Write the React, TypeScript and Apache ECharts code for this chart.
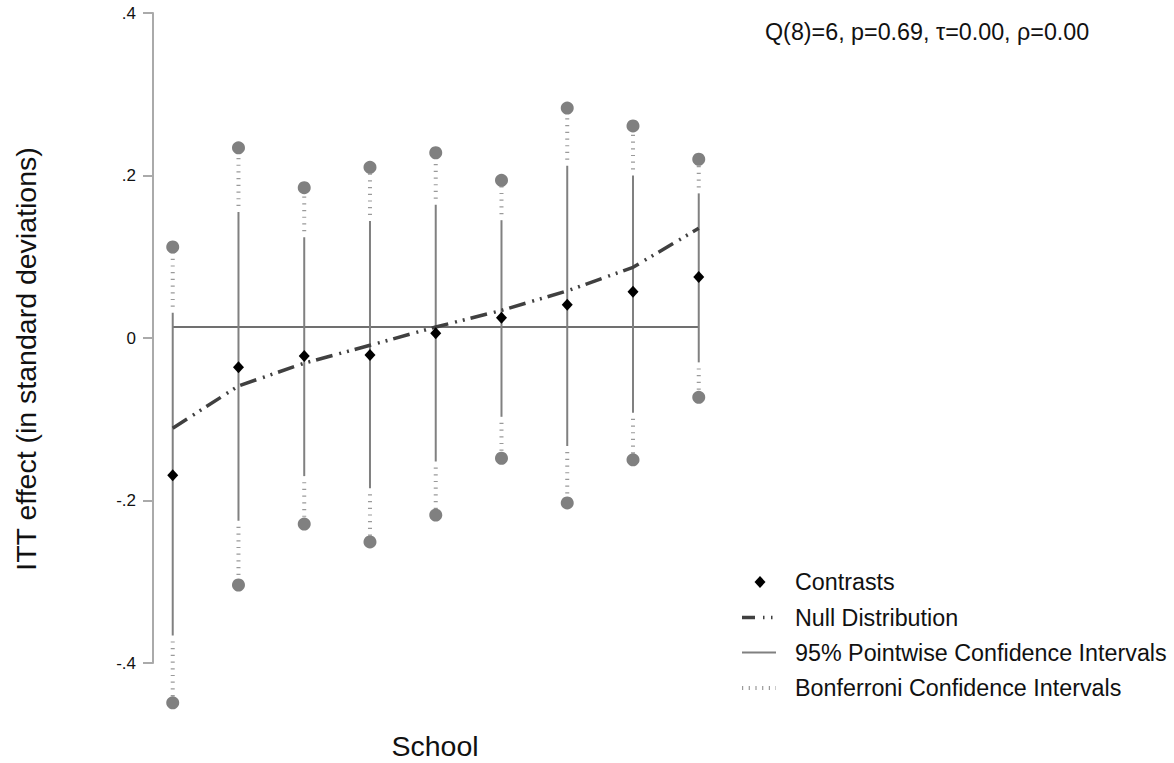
import React, { useEffect, useRef } from "react";
import * as echarts from "echarts";

const schools = [1, 2, 3, 4, 5, 6, 7, 8, 9];
const contrasts = [-0.169, -0.036, -0.022, -0.021, 0.006, 0.025, 0.041, 0.057, 0.075];
const nullDistribution = [-0.111, -0.059, -0.031, -0.009, 0.0135, 0.034, 0.058, 0.087, 0.135];
const pointwiseLower = [-0.366, -0.225, -0.17, -0.185, -0.152, -0.097, -0.133, -0.092, -0.03];
const pointwiseUpper = [0.031, 0.155, 0.124, 0.144, 0.164, 0.145, 0.212, 0.2, 0.178];
const bonferroniLower = [-0.449, -0.304, -0.229, -0.251, -0.218, -0.148, -0.203, -0.15, -0.073];
const bonferroniUpper = [0.112, 0.234, 0.185, 0.21, 0.228, 0.194, 0.283, 0.261, 0.22];
const pooledEffect = 0.0135;
const yTickValues = [-0.4, -0.2, 0, 0.2, 0.4];
const yTickLabels = ["-.4", "-.2", "0", ".2", ".4"];
const legendLabels = [
  "Contrasts",
  "Null Distribution",
  "95% Pointwise Confidence Intervals",
  "Bonferroni Confidence Intervals",
];
const statsText = "Q(8)=6, p=0.69, τ=0.00, ρ=0.00";
const xTitle = "School";
const yTitle = "ITT effect (in standard deviations)";

const FONT = "'Liberation Sans', Arial, Helvetica, sans-serif";

export default function App() {
  const ref = useRef<HTMLDivElement>(null);

  useEffect(() => {
    if (!ref.current) return;
    const chart = echarts.init(ref.current, null, { renderer: "svg" });

    const pwData = schools.map((s, i) => [s, pointwiseLower[i], pointwiseUpper[i]]);
    const bfData = schools.map((s, i) => [
      s,
      bonferroniLower[i],
      pointwiseLower[i],
      pointwiseUpper[i],
      bonferroniUpper[i],
    ]);
    const bfEnds: number[][] = [];
    schools.forEach((s, i) => {
      bfEnds.push([s, bonferroniLower[i]]);
      bfEnds.push([s, bonferroniUpper[i]]);
    });

    const legendY = [582, 617.5, 652.5, 688];
    const lx1 = 742;
    const lx2 = 776;
    const textX = 795;
    const legendText = (t: string, y: number) => ({
      type: "text",
      x: textX,
      y,
      style: {
        text: t,
        fontFamily: FONT,
        fontSize: 23.3,
        fill: "#111",
        align: "left",
        verticalAlign: "middle",
      },
    });

    const option: any = {
      animation: false,
      backgroundColor: "#ffffff",
      textStyle: { fontFamily: FONT },
      grid: {
        left: 153,
        top: 13,
        width: 611.5,
        height: 650,
        outerBoundsMode: "none",
      },
      xAxis: {
        type: "value",
        min: 0.7,
        max: 10,
        show: false,
      },
      yAxis: {
        type: "value",
        position: "left",
        min: -0.4,
        max: 0.4,
        interval: 0.2,
        splitLine: { show: false },
        axisLine: { show: true, onZero: false, lineStyle: { color: "#aaaaaa", width: 2 } },
        axisTick: { show: true, inside: false, length: 10, lineStyle: { color: "#aaaaaa", width: 2 } },
        axisLabel: {
          show: true,
          margin: 17,
          fontFamily: FONT,
          fontSize: 17,
          color: "#111111",
          formatter: (v: number) => {
            const idx = yTickValues.findIndex((t) => Math.abs(t - v) < 1e-9);
            return idx >= 0 ? "{t|" + yTickLabels[idx] + "}" : "";
          },
          rich: {
            t: { fontFamily: FONT, fontSize: 17, color: "#111111" },
          },
        },
      },
      series: [
        {
          name: "Pooled",
          type: "line",
          data: [
            [schools[0], pooledEffect],
            [schools[schools.length - 1], pooledEffect],
          ],
          symbol: "none",
          lineStyle: { color: "#707070", width: 2 },
          z: 1,
        },
        {
          name: legendLabels[3],
          type: "custom",
          data: bfData,
          encode: { x: 0, y: [1, 4] },
          clip: false,
          z: 2,
          renderItem: (params: any, api: any) => {
            const x = api.value(0);
            const a = api.coord([x, api.value(1)]);
            const b = api.coord([x, api.value(2)]);
            const c = api.coord([x, api.value(3)]);
            const d = api.coord([x, api.value(4)]);
            const st = { stroke: "#9a9a9a", lineWidth: 4, lineDash: [1.2, 5.5], fill: null };
            return {
              type: "group",
              children: [
                { type: "line", shape: { x1: b[0], y1: b[1] + 6, x2: a[0], y2: a[1] }, style: st },
                { type: "line", shape: { x1: c[0], y1: c[1] - 6, x2: d[0], y2: d[1] }, style: st },
              ],
            };
          },
        },
        {
          name: legendLabels[2],
          type: "custom",
          data: pwData,
          encode: { x: 0, y: [1, 2] },
          clip: false,
          z: 3,
          renderItem: (params: any, api: any) => {
            const x = api.value(0);
            const a = api.coord([x, api.value(1)]);
            const b = api.coord([x, api.value(2)]);
            return {
              type: "line",
              shape: { x1: a[0], y1: a[1], x2: b[0], y2: b[1] },
              style: { stroke: "#808080", lineWidth: 2 },
            };
          },
        },
        {
          name: "Bonferroni bounds",
          type: "scatter",
          data: bfEnds,
          symbol: "circle",
          symbolSize: 13,
          clip: false,
          itemStyle: { color: "#808080", opacity: 1 },
          z: 4,
        },
        {
          name: legendLabels[1],
          type: "line",
          data: schools.map((s, i) => [s, nullDistribution[i]]),
          symbol: "none",
          lineStyle: { color: "#404040", width: 3.5, type: [17, 7, 2, 6, 2, 6] },
          z: 5,
        },
        {
          name: legendLabels[0],
          type: "scatter",
          data: schools.map((s, i) => [s, contrasts[i]]),
          symbol: "diamond",
          symbolSize: [11, 12],
          clip: false,
          itemStyle: { color: "#000000", opacity: 1 },
          z: 6,
        },
      ],
      graphic: [
        {
          type: "text",
          x: 765,
          y: 32,
          style: {
            text: statsText,
            fontFamily: FONT,
            fontSize: 23.3,
            fill: "#111",
            align: "left",
            verticalAlign: "middle",
          },
        },
        {
          type: "text",
          x: 435,
          y: 746,
          style: {
            text: xTitle,
            fontFamily: FONT,
            fontSize: 28.5,
            fill: "#111",
            align: "center",
            verticalAlign: "middle",
          },
        },
        {
          type: "text",
          x: 26,
          y: 359,
          rotation: Math.PI / 2,
          style: {
            text: yTitle,
            fontFamily: FONT,
            fontSize: 28.5,
            fill: "#111",
            align: "center",
            verticalAlign: "middle",
          },
        },
        {
          type: "polygon",
          shape: {
            points: [
              [760, legendY[0] - 6],
              [765.5, legendY[0]],
              [760, legendY[0] + 6],
              [754.5, legendY[0]],
            ],
          },
          style: { fill: "#000" },
        },
        legendText(legendLabels[0], legendY[0]),
        {
          type: "line",
          shape: { x1: lx1, y1: legendY[1], x2: lx2, y2: legendY[1] },
          style: { stroke: "#404040", lineWidth: 3.5, lineDash: [13, 8, 1.5, 6.5, 1.5, 6] },
        },
        legendText(legendLabels[1], legendY[1]),
        {
          type: "line",
          shape: { x1: lx1, y1: legendY[2], x2: lx2, y2: legendY[2] },
          style: { stroke: "#808080", lineWidth: 2 },
        },
        legendText(legendLabels[2], legendY[2]),
        {
          type: "line",
          shape: { x1: lx1, y1: legendY[3], x2: lx2, y2: legendY[3] },
          style: { stroke: "#9a9a9a", lineWidth: 4, lineDash: [1.2, 5.5] },
        },
        legendText(legendLabels[3], legendY[3]),
      ],
    };

    chart.setOption(option);
    return () => chart.dispose();
  }, []);

  return (
    <div
      ref={ref}
      style={{ position: "fixed", left: 0, top: 0, width: 1174, height: 763, background: "#fff" }}
    />
  );
}
